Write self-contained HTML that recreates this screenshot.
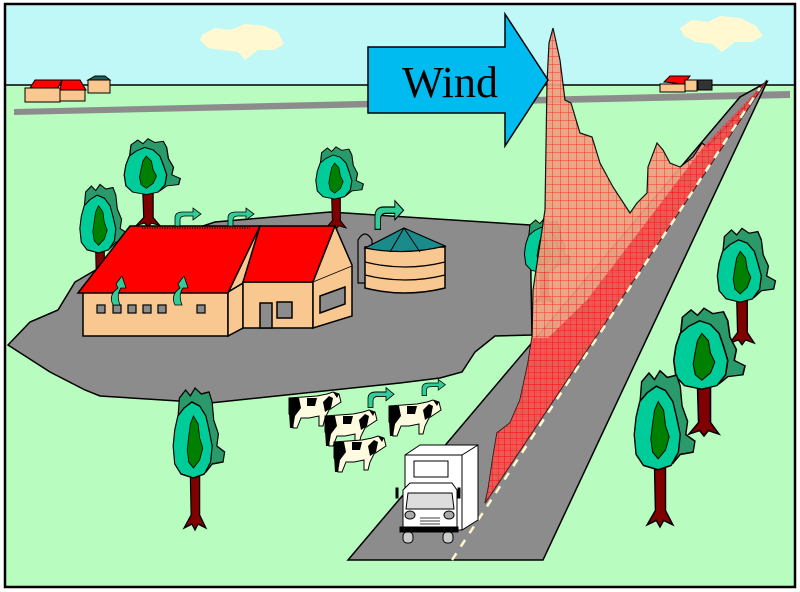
<!DOCTYPE html>
<html><head><meta charset="utf-8"><style>
html,body{margin:0;padding:0;background:#fff;}
svg{display:block;}
</style></head><body>
<svg width="800" height="592" viewBox="0 0 800 592" xmlns="http://www.w3.org/2000/svg">
<defs>
<pattern id="grid" width="8" height="8" patternUnits="userSpaceOnUse">
<rect width="8" height="8" fill="#f0a080"/>
<path d="M0 0H8M0 0V8" stroke="#ff2020" stroke-width="1"/>
</pattern>
<pattern id="grid2" width="6" height="6" patternUnits="userSpaceOnUse">
<rect width="6" height="6" fill="#e85050"/>
<path d="M0 0H6M0 0V6" stroke="#ff0000" stroke-width="1"/>
</pattern>
<g id="tree">
<path d="M-6 84 L-5 125 L-14 138 L-4 134 L0 140 L4 134 L14 138 L6 125 L6 84Z" fill="#800000" stroke="#000" stroke-width="1.5"/>
<path d="M-20 8 L-12 0 L-6 6 L0 -2 L8 4 L18 2 L22 12 L24 30 L30 44 L28 56 L38 62 L36 72 L22 74 L14 82 L0 84 L-12 80 L-18 60 L-22 30Z" fill="#2a9a6a" stroke="#000" stroke-width="1.5"/>
<path d="M-14 18 L-4 12 L6 16 L14 26 L18 40 L22 56 L20 72 L12 84 L-2 88 L-18 84 L-26 74 L-28 56 L-26 40 L-22 26Z" fill="#00cc99" stroke="#000" stroke-width="1.5"/>
<path d="M-2 26 L4 34 L6 48 L10 58 L6 70 L-2 78 L-8 72 L-10 60 L-8 46 L-6 34Z" fill="#008000" stroke="#000" stroke-width="1"/>
</g>
<g id="cow">
<path d="M2 6 L30 4 L40 2 L46 0 L52 2 L54 10 L48 14 L42 18 L38 26 L36 34 L32 34 L32 24 L22 26 L14 26 L10 36 L6 36 L6 26 L2 22Z" fill="#fffbe0" stroke="#000" stroke-width="1"/>
<path d="M2 6 L12 6 L14 16 L8 24 L6 36 L3 36 L2 20Z M20 6 L30 6 L28 14 L20 14Z M36 10 L42 4 L46 6 L44 16 L38 20Z M46 0 L52 2 L50 6Z" fill="#000"/>
</g>
<g id="garrow">
<path d="M0 14 L0 6 Q0 0 8 0 L18 0 L18 -4 L26 2 L18 8 L18 4 L10 4 Q5 4 5 8 L5 14Z" fill="#33cc99" stroke="#000" stroke-width="0.8"/>
</g>
</defs>
<rect x="0" y="0" width="800" height="592" fill="#fff"/>
<rect x="5" y="4" width="790" height="583" fill="#b8fcc0"/>
<rect x="5" y="4" width="790" height="81" fill="#c0f8f8"/>
<line x1="5" y1="85" x2="795" y2="85" stroke="#000" stroke-width="1.5"/>
<path d="M202 35 L215 28 L230 30 L245 24 L265 26 L278 32 L284 44 L274 50 L258 50 L245 60 L238 52 L222 50 L208 48 L200 40Z" fill="#fff8d0"/>
<path d="M680 28 L692 20 L708 22 L720 16 L740 18 L756 26 L763 36 L752 42 L735 42 L722 52 L712 44 L696 42 L684 36Z" fill="#fff8d0"/>
<path d="M14 109 L790 91 L790 98 L14 115Z" fill="#8c8c8c"/>
<g stroke="#000" stroke-width="1">
<path d="M30 88 L35 80 L62 80 L58 88Z" fill="#ff0000"/>
<path d="M62 80 L80 80 L86 90 L60 90Z" fill="#ff0000"/>
<rect x="25" y="88" width="35" height="14" fill="#f8c890"/>
<rect x="60" y="90" width="25" height="11" fill="#f8c890"/>
<rect x="88" y="80" width="22" height="13" fill="#f8c890"/>
<path d="M88 80 L95 76 L105 76 L110 80Z" fill="#206060"/>
<path d="M664 82 L670 76 L690 76 L684 84Z" fill="#ff0000"/>
<rect x="660" y="84" width="25" height="8" fill="#f8c890"/>
<rect x="685" y="80" width="12" height="11" fill="#f8c890"/>
<rect x="698" y="80" width="14" height="10" fill="#333"/>
</g>
<path d="M8 345 L30 322 L58 310 L75 282 L130 250 L215 222 L330 212 L530 225 L532 335 L495 336 L475 352 L462 372 L440 378 L400 383 L210 403 L100 396 L85 390 L50 372Z" fill="#8c8c8c" stroke="#000" stroke-width="1.5"/>
<path d="M348 560 L740 97 L767 82 L543 560Z" fill="#8c8c8c" stroke="#000" stroke-width="1.5"/>
<use href="#tree" transform="translate(100,186) scale(0.72,0.76)"/>
<use href="#tree" transform="translate(148,140) scale(0.85,0.62)"/>
<use href="#tree" transform="translate(336,148) scale(0.72,0.58)"/>
<use href="#tree" transform="translate(544,220) scale(0.7,0.6)"/>
<path d="M358 283 L358 240 Q365 228 372 240 L372 283Z" fill="#8c8c8c" stroke="#000" stroke-width="1.2"/>
<path d="M365 247 L365 288 Q405 298 445 288 L445 247Z" fill="#f8c890" stroke="#000" stroke-width="1.5"/>
<path d="M365 262 Q405 272 445 262 M365 275 Q405 285 445 275" fill="none" stroke="#000" stroke-width="1.3"/>
<path d="M365 248 L404 228 L445 246 Q405 256 365 248Z" fill="#1a8a8a" stroke="#000" stroke-width="1.2"/>
<path d="M404 228 L390 252 M404 228 L420 252" stroke="#000" stroke-width="1"/>
<g stroke="#000" stroke-width="1.5">
<rect x="83" y="292" width="145" height="44" fill="#f8c890"/>
<path d="M228 292 L243 283 L243 328 L228 336Z" fill="#f8c890"/>
<path d="M228 292 L260 226 L243 283Z" fill="#f8c890"/>
<path d="M78 293 L130 226 L260 226 L228 293Z" fill="#ff0000"/>
<rect x="243" y="282" width="70" height="46" fill="#f8c890"/>
<path d="M243 282 L260 226 L335 226 L313 282Z" fill="#ff0000"/>
<path d="M313 282 L335 226 L352 265 L352 316 L313 328Z" fill="#f8c890"/>
<path d="M313 282 L352 266" fill="none" stroke-width="0.8"/>
<rect x="260" y="303" width="12" height="25" fill="#8c8c8c"/>
<rect x="277" y="302" width="15" height="16" fill="#8c8c8c"/>
<path d="M320 296 L345 287 L345 304 L320 313Z" fill="#8c8c8c"/>
<g fill="#8c8c8c" stroke-width="1.2">
<rect x="97" y="305" width="8" height="8"/><rect x="113" y="305" width="8" height="8"/><rect x="128" y="305" width="8" height="8"/><rect x="143" y="305" width="8" height="8"/><rect x="158" y="305" width="8" height="8"/><rect x="197" y="305" width="8" height="8"/>
</g>
</g>
<line x1="142" y1="228" x2="250" y2="228" stroke="#000" stroke-width="1.5" stroke-dasharray="1 1.5"/>
<use href="#garrow" transform="translate(175,212)"/>
<use href="#garrow" transform="translate(228,212)"/>
<use href="#garrow" transform="translate(375,207) scale(1.1,1.6)"/>
<use href="#garrow" transform="translate(368,392) scale(1,1.1)"/>
<use href="#garrow" transform="translate(422,383) scale(0.9,0.9)"/>
<path d="M113 305 Q108 295 118 288 L116 284 L122 276 L126 288 L121 288 Q116 295 120 305Z" fill="#33cc99" stroke="#000" stroke-width="0.8"/>
<path d="M175 305 Q170 295 180 288 L178 284 L184 276 L188 288 L183 288 Q178 295 182 305Z" fill="#33cc99" stroke="#000" stroke-width="0.8"/>
<!-- plume -->
<path d="M553 28 L560 60 L565 100 L571 103 L580 133 L592 137 L600 163 L613 187 L630 213 L637 203 L647 193 L648 167 L657 143 L663 150 L670 163 L680 167 L693 157 L702 143 L707 147 L733 120 L753 97 L767 80 L485 503 L488 490 L493 457 L497 433 L510 423 L520 400 L528 363 L532 337 L533 290 L545 210 L547 83 L549 43Z" fill="url(#grid)" stroke="#000" stroke-width="1.2" opacity="0.92"/>
<path d="M767 80 L705 145 L587 300 L548 338 L532 338 L528 363 L520 400 L510 423 L497 433 L493 457 L488 490 L485 503Z" fill="url(#grid2)" opacity="0.85"/>
<line x1="452" y1="560" x2="760" y2="88" stroke="#fff8d0" stroke-width="2.5" stroke-dasharray="8 8"/>
<use href="#tree" transform="translate(195,390) scale(0.78,1.0)"/>
<use href="#tree" transform="translate(742,230) scale(0.88,0.82)"/>
<use href="#tree" transform="translate(704,310) scale(1.08,0.9)"/>
<use href="#tree" transform="translate(660,373) scale(0.92,1.1)"/>
<use href="#cow" transform="translate(287,392)"/>
<use href="#cow" transform="translate(323,410)"/>
<use href="#cow" transform="translate(332,436)"/>
<use href="#cow" transform="translate(387,400)"/>
<g stroke="#000" stroke-width="1">
<path d="M405 455 L420 445 L478 445 L478 520 L462 530 L405 530Z" fill="#fff"/>
<path d="M405 455 L462 455 L478 445" fill="none"/>
<line x1="462" y1="455" x2="462" y2="530"/>
<rect x="414" y="461" width="34" height="16" fill="#fff"/>
<path d="M403 490 L410 483 L452 483 L457 490 L457 527 L403 527Z" fill="#fff"/>
<path d="M406 509 L408 493 L452 493 L454 509Z" fill="#ddd"/>
<ellipse cx="410" cy="515" rx="5" ry="4" fill="#aaa"/>
<ellipse cx="449" cy="515" rx="5" ry="4" fill="#aaa"/>
<path d="M420 518H440M420 521H440M420 524H440M420 527H440" stroke-width="0.8"/>
<rect x="400" y="527" width="58" height="5" fill="#000"/>
<rect x="403" y="532" width="10" height="11" rx="4" fill="#ccc"/>
<rect x="443" y="532" width="10" height="11" rx="4" fill="#ccc"/>
<rect x="396" y="488" width="2" height="10" fill="#000"/>
<rect x="458" y="488" width="2" height="10" fill="#000"/>
</g>
<path d="M368 47 L505 47 L505 14 L548 80 L505 146 L505 113 L368 113Z" fill="#00bbf0" stroke="#000" stroke-width="1.5"/>
<text x="402" y="97" font-family="'Liberation Serif',serif" font-size="44" fill="#000">Wind</text>
<rect x="5" y="4" width="790" height="583" fill="none" stroke="#000" stroke-width="2.5"/>
</svg>
</body></html>
